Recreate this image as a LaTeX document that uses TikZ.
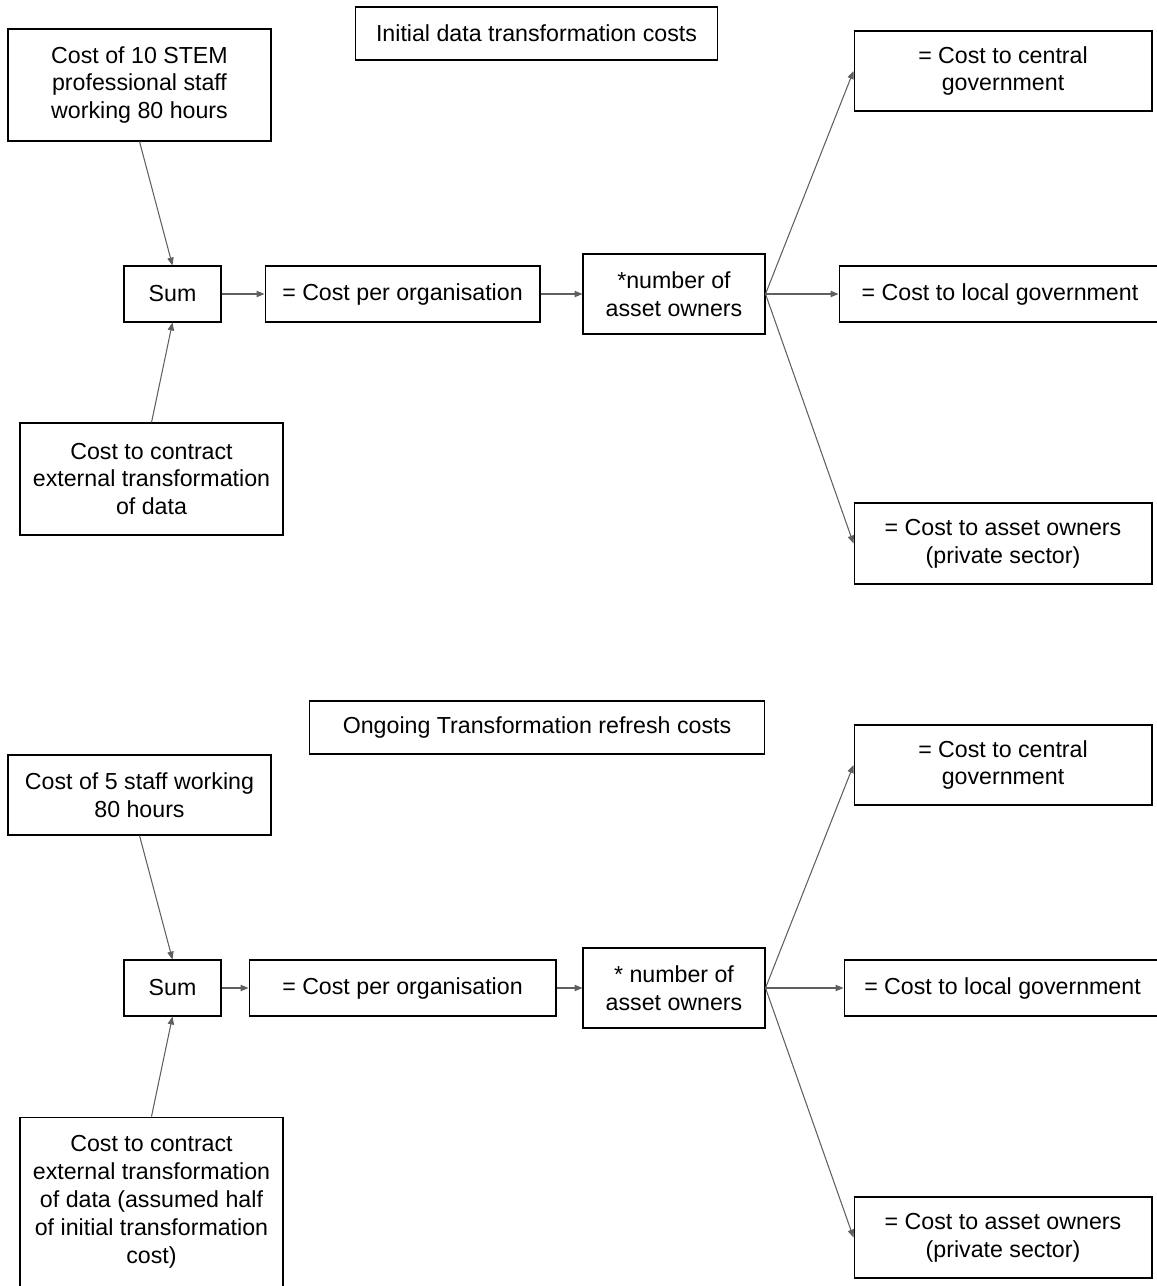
\documentclass[tikz,border=0pt]{standalone}
\usepackage{fontspec}
\setmainfont{Liberation Sans}
\usetikzlibrary{arrows.meta}
\definecolor{arrowgrey}{RGB}{95,95,95}
\tikzset{
  box/.style={draw, line width=0.6pt, align=center, inner sep=0pt,
    font=\fontsize{13.2}{15.9}\selectfont},
  flow/.style={draw=arrowgrey, line width=0.6pt,
    -{Triangle[length=4.5pt,width=3.6pt]}}
}
\newcommand{\FanOut}[4]{%
  % #1 source, #2 #3 #4 the three targets
  \draw[flow] (#1.east) -- (#2.west);
  \draw[flow] (#1.east) -- (#3.west);
  \draw[flow] (#1.east) -- (#4.west);
}

\begin{document}
\begin{tikzpicture}[x=0.02cm, y=-0.02cm]
  \useasboundingbox (0,0) rectangle (1157,1286);

  % a) initial costs
  \node[box, minimum width=7.26cm, minimum height=1.06cm] (titleA) at (536.5,33.5) {Initial data transformation costs};
  \node[box, minimum width=5.26cm, minimum height=2.24cm] (staffA) at (139.5,85) {Cost of 10 STEM\\professional staff\\working 80 hours};
  \node[box, minimum width=1.94cm, minimum height=1.12cm] (sumA) at (172.5,294) {Sum};
  \node[box, minimum width=5.5cm, minimum height=1.12cm] (cpoA) at (402.5,294) {= Cost per organisation};
  \node[box, minimum width=3.64cm, minimum height=1.6cm] (ownersA) at (674,294) {*number of\\asset owners};
  \node[box, minimum width=5.96cm, minimum height=1.6cm] (centralA) at (1003,71) {= Cost to central\\government};
  \node[box, minimum width=6.44cm, minimum height=1.12cm] (localA) at (1000,294) {= Cost to local government};
  \node[box, minimum width=5.96cm, minimum height=1.62cm] (privateA) at (1003,543.5) {= Cost to asset owners\\(private sector)};
  \node[box, minimum width=5.26cm, minimum height=2.24cm] (contractA) at (151.5,479) {Cost to contract\\external transformation\\of data};

  \draw[flow] (staffA.south) -- (sumA.north);
  \draw[flow] (contractA.north) -- (sumA.south);
  \draw[flow] (sumA) -- (cpoA);
  \draw[flow] (cpoA) -- (ownersA);
  \FanOut{ownersA}{centralA}{localA}{privateA}

  % b) ongoing refresh costs
  \node[box, minimum width=9.12cm, minimum height=1.06cm] (titleB) at (537,727.5) {Ongoing Transformation refresh costs};
  \node[box, minimum width=5.26cm, minimum height=1.6cm] (staffB) at (139.5,795) {Cost of 5 staff working\\80 hours};
  \node[box, minimum width=1.94cm, minimum height=1.12cm] (sumB) at (172.5,988) {Sum};
  \node[box, minimum width=6.14cm, minimum height=1.12cm] (cpoB) at (402.5,988) {= Cost per organisation};
  \node[box, minimum width=3.64cm, minimum height=1.6cm] (ownersB) at (674,988) {* number of\\asset owners};
  \node[box, minimum width=5.96cm, minimum height=1.6cm] (centralB) at (1003,765) {= Cost to central\\government};
  \node[box, minimum width=6.34cm, minimum height=1.12cm] (localB) at (1002.5,988) {= Cost to local government};
  \node[box, minimum width=5.96cm, minimum height=1.62cm] (privateB) at (1003,1237.5) {= Cost to asset owners\\(private sector)};
  \node[box, minimum width=5.26cm, minimum height=3.84cm] (contractB) at (151.5,1213) {Cost to contract\\external transformation\\of data (assumed half\\of initial transformation\\cost)\\\mbox{}};

  \draw[flow] (staffB.south) -- (sumB.north);
  \draw[flow] (contractB.north) -- (sumB.south);
  \draw[flow] (sumB) -- (cpoB);
  \draw[flow] (cpoB) -- (ownersB);
  \FanOut{ownersB}{centralB}{localB}{privateB}
\end{tikzpicture}
\end{document}
